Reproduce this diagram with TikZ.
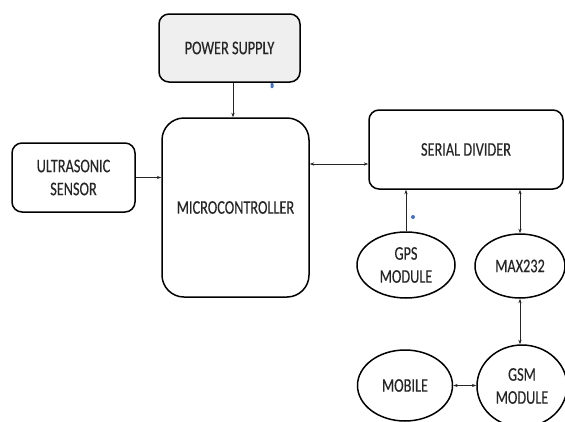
\documentclass[tikz,border=0pt]{standalone}
\usepackage{fontspec}
\newfontfamily\lbl[FakeStretch=0.74,FakeBold=0.3]{Carlito}
\usetikzlibrary{shapes.geometric,arrows.meta}
\definecolor{boxgray}{HTML}{EFEFEF}
\definecolor{dotblue}{HTML}{4472C4}
\definecolor{txt}{HTML}{262626}
\begin{document}
\begin{tikzpicture}[x=1pt,y=-1pt,
  lab/.style={font=\lbl\fontsize{19.3}{23}\selectfont, text=txt, align=center, inner sep=0pt},
  rbox/.style={lab, draw=black, line width=1.5pt, rounded corners=10pt, rectangle},
  ell/.style={lab, draw=black, line width=1.5pt, ellipse},
  conn/.style={draw=black!85, line width=0.7pt, -{Stealth[length=4.5pt,width=3.2pt]}},
  bconn/.style={draw=black!85, line width=0.7pt, {Stealth[length=4.5pt,width=3.2pt]}-{Stealth[length=4.5pt,width=3.2pt]}}]
\useasboundingbox (0,0) rectangle (565,421);
\fill[white] (0,0) rectangle (565,421);

\node[rbox, fill=boxgray, minimum width=141pt, minimum height=68pt] (power) at (229.5,48) {POWER SUPPLY};
\node[rbox, rounded corners=22pt, minimum width=147pt, minimum height=179pt] (micro) at (235.5,207.5) {MICROCONTROLLER};
\node[rbox, minimum width=123pt, minimum height=69pt] (ultra) at (73.5,177.5) {ULTRASONIC\\SENSOR};
\node[rbox, minimum width=194pt, minimum height=79pt] (serial) at (466,149.5) {SERIAL DIVIDER};
\node[ell, minimum width=98pt, minimum height=66pt] (gps) at (406,265) {GPS\\MODULE};
\node[ell, minimum width=90pt, minimum height=64pt] (max) at (520,266) {MAX232};
\node[ell, minimum width=90pt, minimum height=82pt] (gsm) at (522,386) {GSM\\MODULE};
\node[ell, minimum width=95pt, minimum height=71pt] (mobile) at (405,385.5) {MOBILE};

\coordinate (xa) at (233,0);
\coordinate (ya) at (0,164);
\draw[conn] (power.south -| xa) -- (micro.north -| xa);
\draw[conn] (ultra.east) -- (ultra.east -| micro.west);
\draw[bconn] (micro.east |- ya) -- (serial.west |- ya);
\draw[conn] (gps.north) -- (serial.south -| gps.north);
\draw[bconn] (serial.south -| max.north) -- (max.north);
\draw[bconn] (max.south) -- (max.south |- gsm.north);
\draw[bconn] (mobile.east) -- (mobile.east -| gsm.west);

\fill[dotblue, rounded corners=0.8pt] (270.5,83) rectangle (273.5,88);
\fill[dotblue] (413,217) circle (2);
\end{tikzpicture}
\end{document}
